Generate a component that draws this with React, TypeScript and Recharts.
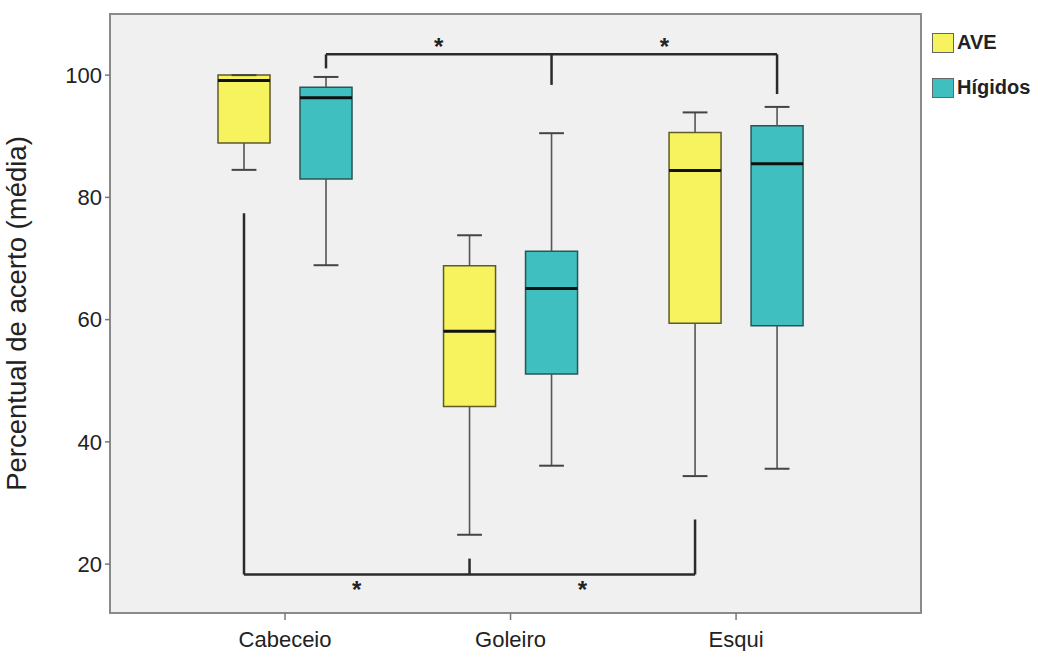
import React from 'react';
import { ComposedChart, XAxis, YAxis, ReferenceArea, ReferenceLine, ReferenceDot } from 'recharts';

// ---- data ----
const categories = ['Cabeceio', 'Goleiro', 'Esqui'];
const seriesNames = ['AVE', 'Hígidos'];

const aveMin = [84.5, 24.8, 34.4];
const aveQ1 = [88.9, 45.8, 59.4];
const aveMedian = [99.1, 58.1, 84.4];
const aveQ3 = [100, 68.8, 90.6];
const aveMax = [100, 73.8, 93.9];

const higMin = [68.9, 36.1, 35.6];
const higQ1 = [83.0, 51.1, 59.0];
const higMedian = [96.3, 65.1, 85.5];
const higQ3 = [98.0, 71.2, 91.7];
const higMax = [99.7, 90.5, 94.8];

const yTicks = [20, 40, 60, 80, 100];

// significance brackets
const topBracketLevel = 103.4;
const topBracketEnds = [101.1, 98.4, 96.9];
const topStarLevel = 105.4;
const bottomBracketLevel = 18.3;
const bottomBracketEnds = [77.4, 20.9, 27.3];
const bottomStarLevel = 16.5;

// ---- layout / style ----
const X_MIN = 0.224;
const X_MAX = 3.82;
const Y_MIN = 12;
const Y_MAX = 110;
const OFFSET = 0.1818;
const HALF_BOX = 0.1153;
const HALF_CAP = 0.055;
const FONT = '"Liberation Sans", Arial, sans-serif';

const series = [
  { name: seriesNames[0], sign: -1, fill: '#f7f35e', stroke: '#5e5a2a', min: aveMin, q1: aveQ1, med: aveMedian, q3: aveQ3, max: aveMax },
  { name: seriesNames[1], sign: 1, fill: '#40bfc1', stroke: '#2a5556', min: higMin, q1: higQ1, med: higMedian, q3: higQ3, max: higMax },
];

const xTicks = categories.map((_, i) => i + 1);

const Star = (props: any) => (
  <text x={props.cx} y={props.cy} dy={13} textAnchor="middle" fontSize={24} fontWeight="bold" fontFamily={FONT} fill="#222">*</text>
);

export default function App() {
  const elems: React.ReactNode[] = [];
  series.forEach((s, si) => {
    categories.forEach((c, i) => {
      const x = i + 1 + s.sign * OFFSET;
      const k = `${si}-${i}`;
      const wStyle = { stroke: '#555', strokeWidth: 1.6 };
      elems.push(<ReferenceLine key={`wl${k}`} segment={[{ x, y: s.min[i] }, { x, y: s.q1[i] }]} {...wStyle} />);
      elems.push(<ReferenceLine key={`wu${k}`} segment={[{ x, y: s.q3[i] }, { x, y: s.max[i] }]} {...wStyle} />);
      elems.push(<ReferenceLine key={`cl${k}`} segment={[{ x: x - HALF_CAP, y: s.min[i] }, { x: x + HALF_CAP, y: s.min[i] }]} stroke="#444" strokeWidth={2} />);
      elems.push(<ReferenceLine key={`cu${k}`} segment={[{ x: x - HALF_CAP, y: s.max[i] }, { x: x + HALF_CAP, y: s.max[i] }]} stroke="#444" strokeWidth={2} />);
      elems.push(
        <ReferenceArea key={`b${k}`} x1={x - HALF_BOX} x2={x + HALF_BOX} y1={s.q1[i]} y2={s.q3[i]} fill={s.fill} fillOpacity={1} stroke={s.stroke} strokeWidth={1.5} />
      );
      elems.push(<ReferenceLine key={`m${k}`} segment={[{ x: x - HALF_BOX, y: s.med[i] }, { x: x + HALF_BOX, y: s.med[i] }]} stroke="#111" strokeWidth={3} />);
    });
  });

  const bStyle = { stroke: '#2b2b2b', strokeWidth: 2.5 };
  // top bracket (Hígidos)
  const topX = categories.map((_, i) => i + 1 + OFFSET);
  elems.push(<ReferenceLine key="tb" segment={[{ x: topX[0], y: topBracketLevel }, { x: topX[2], y: topBracketLevel }]} {...bStyle} />);
  topX.forEach((x, i) => {
    elems.push(<ReferenceLine key={`td${i}`} segment={[{ x, y: topBracketLevel }, { x, y: topBracketEnds[i] }]} {...bStyle} />);
  });
  for (let i = 0; i < 2; i++) {
    elems.push(<ReferenceDot key={`ts${i}`} x={(topX[i] + topX[i + 1]) / 2} y={topStarLevel} r={0} shape={Star} />);
  }
  // bottom bracket (AVE)
  const botX = categories.map((_, i) => i + 1 - OFFSET);
  elems.push(<ReferenceLine key="bb" segment={[{ x: botX[0], y: bottomBracketLevel }, { x: botX[2], y: bottomBracketLevel }]} {...bStyle} />);
  botX.forEach((x, i) => {
    elems.push(<ReferenceLine key={`bd${i}`} segment={[{ x, y: bottomBracketLevel }, { x, y: bottomBracketEnds[i] }]} {...bStyle} />);
  });
  for (let i = 0; i < 2; i++) {
    elems.push(<ReferenceDot key={`bs${i}`} x={(botX[i] + botX[i + 1]) / 2} y={bottomStarLevel} r={0} shape={Star} />);
  }

  return (
    <div style={{ position: 'absolute', left: 0, top: 0, width: 1049, height: 651, background: '#fff', fontFamily: FONT }}>
      <ComposedChart width={1049} height={651} margin={{ top: 14, right: 128, bottom: 0, left: 0 }} data={categories.map((c, i) => ({ x: i + 1, name: c }))}>
        <XAxis
          type="number"
          dataKey="x"
          domain={[X_MIN, X_MAX]}
          allowDataOverflow
          ticks={xTicks}
          tickFormatter={(v: number) => categories[Math.round(v) - 1] ?? ''}
          height={38}
          axisLine={false}
          tickLine={{ stroke: '#777', strokeWidth: 1.5 }}
          tickSize={7}
          tickMargin={11}
          tick={{ fill: '#222', fontSize: 22, fontFamily: FONT }}
          interval={0}
        />
        <YAxis
          type="number"
          domain={[Y_MIN, Y_MAX]}
          allowDataOverflow
          ticks={yTicks}
          width={110}
          axisLine={false}
          tickLine={{ stroke: '#777', strokeWidth: 1.5 }}
          tickSize={5}
          tickMargin={3}
          tick={{ fill: '#222', fontSize: 22, fontFamily: FONT }}
          label={{ value: 'Percentual de acerto (média)', angle: -90, position: 'insideLeft', offset: 22, dx: -6, style: { textAnchor: 'middle', fontSize: 27.5, fill: '#222', fontFamily: FONT } }}
        />
        <ReferenceArea x1={X_MIN} x2={X_MAX} y1={Y_MIN} y2={Y_MAX} fill="#f0f0f0" fillOpacity={1} stroke="#8a8a8a" strokeWidth={2} />
        {elems}
      </ComposedChart>
      {series.map((s, i) => (
        <div key={s.name} style={{ position: 'absolute', left: 932, top: 31 + i * 45, display: 'flex', alignItems: 'center' }}>
          <div style={{ width: 20, height: 18, background: s.fill, border: '1px solid #666' }} />
          <span style={{ marginLeft: 3, fontSize: 20, fontWeight: 'bold', color: '#222', fontFamily: FONT }}>{s.name}</span>
        </div>
      ))}
    </div>
  );
}
